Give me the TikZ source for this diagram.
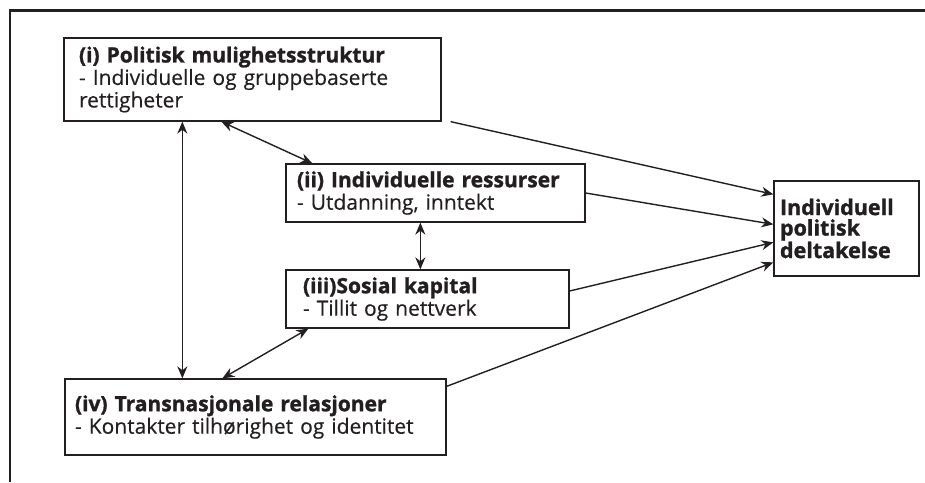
\documentclass[tikz,border=0pt]{standalone}
\usepackage{fontspec}
\setmainfont{Open Sans}[UprightFeatures={FakeBold=0.3}, BoldFeatures={FakeBold=1.3}]
\usetikzlibrary{arrows.meta}
\definecolor{ink}{HTML}{231F20}
\begin{document}
\begin{tikzpicture}[x=1pt,y=-1pt,
  box/.style={draw=ink, line width=1.3pt, rectangle, align=left, inner ysep=0pt,
    font=\fontsize{21}{22.5}\selectfont, text=ink},
  tip/.tip={Stealth[length=12pt,width=10pt]},
  link/.style={line width=1.4pt, draw=ink, -tip},
  both/.style={line width=1.4pt, draw=ink, tip-tip}]
\useasboundingbox (0,0) rectangle (925,482);
\draw[line width=2.5pt, ink] (10,482) -- (10,10.5) -- (925,10.5);

\node[box, minimum width=377pt, minimum height=83pt, text width=347pt, inner xsep=15pt] (i) at (252.5,79.5)
  {\textbf{(i) Politisk mulighetsstruktur}\\- Individuelle og gruppebaserte\\rettigheter};
\node[box, minimum width=299pt, minimum height=58pt, text width=277pt, inner xsep=11pt] (ii) at (435.5,193)
  {\textbf{(ii) Individuelle ressurser}\\- Utdanning, inntekt};
\node[box, minimum width=283pt, minimum height=58pt, text width=249pt, inner xsep=17pt] (iii) at (427.5,299)
  {\textbf{(iii)Sosial kapital}\\- Tillit og nettverk};
\node[box, minimum width=381pt, minimum height=76pt, text width=361pt, inner xsep=10pt] (iv) at (255.5,417)
  {\textbf{(iv) Transnasjonale relasjoner}\\- Kontakter tilhørighet og identitet};
\node[box, minimum width=145pt, minimum height=95pt, text width=133pt, inner xsep=6pt,
  font=\fontsize{21.5}{20.5}\selectfont] (R) at (846.5,228.5)
  {\textbf{Individuell}\\\textbf{politisk}\\\textbf{deltakelse}};

\draw[both] ([xshift=158pt]i.south west) -- ([xshift=27pt]ii.north west);
\draw[both] ([xshift=119pt]i.south west) -- ([xshift=119pt]i.south west |- iv.north);
\draw[both] ([xshift=135pt]ii.south west) -- ([xshift=135pt]ii.south west |- iii.north);
\draw[both] ([xshift=23pt]iii.south west) -- ([xshift=158pt]iv.north west);

\draw[link] ([xshift=9pt]i.south east) -- ([yshift=-14pt]R.north west);
\draw[link] (ii.east) -- ([yshift=-44pt]R.north west);
\draw[link] ([yshift=8pt]iii.east) -- ([yshift=-62pt]R.north west);
\draw[link] ([yshift=-8pt]iv.north east) -- ([yshift=-82pt]R.north west);
\end{tikzpicture}
\end{document}
